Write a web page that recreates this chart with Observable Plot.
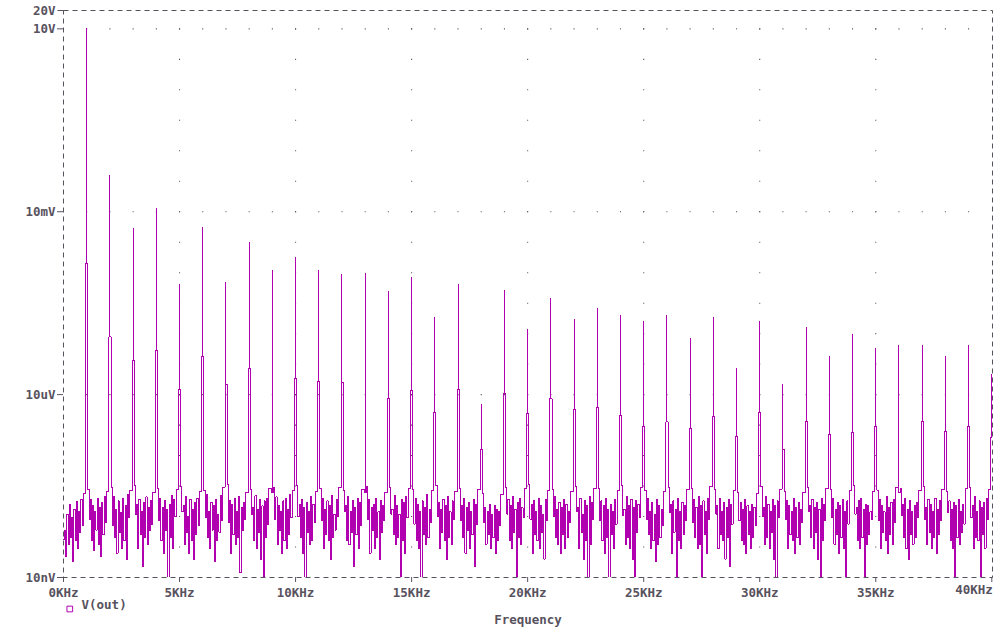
<!DOCTYPE html>
<html><head><meta charset="utf-8">
<script src="https://cdn.jsdelivr.net/npm/d3@7"></script>
<script src="https://cdn.jsdelivr.net/npm/@observablehq/plot@0.6"></script>
<style>html,body{margin:0;padding:0;background:#fff;overflow:hidden}</style>
</head><body><div id="chart"></div>
<script>
// Harmonic frequencies (KHz)
const harmonicKHz = [1,2,3,4,5,6,7,8,9,10,11,12,13,14,15,16,17,18,19,20,21,22,23,24,25,26,27,28,29,30,31,32,33,34,35,36,37,38,39,40];
// Peak amplitude at each harmonic (V)
const peakV = [10, 3.9e-2, 5.3e-3, 1.12e-2, 6.4e-4, 5.5e-3, 7.1e-4, 3.1e-3, 1.08e-3, 1.76e-3,
  1.08e-3, 9.6e-4, 9.6e-4, 4.9e-4, 8.3e-4, 1.83e-4, 6.6e-4, 6.9e-6, 5.1e-4, 1.16e-4,
  3.75e-4, 1.76e-4, 2.57e-4, 1.97e-4, 1.57e-4, 1.97e-4, 8.3e-5, 1.83e-4, 2.67e-5, 1.57e-4,
  1.46e-5, 1.25e-4, 4.2e-5, 9.6e-5, 5.7e-5, 6.6e-5, 6.4e-5, 4.2e-5, 6.4e-5, 2.13e-5];
// Leakage amplitude right beside each harmonic (V)
const shoulderV = [1.41e-3, 8.9e-5, 3.6e-5, 5.3e-5, 1.21e-5, 4.2e-5, 1.46e-5, 2.67e-5, 2.5e-7, 1.83e-5,
  1.63e-5, 1.57e-5, 2.5e-7, 8.6e-6, 1.16e-5, 5.1e-6, 1.21e-5, 1.25e-6, 1.04e-5, 4.9e-6,
  8.6e-6, 5.7e-6, 6.1e-6, 4.5e-6, 3.0e-6, 3.6e-6, 2.8e-6, 4.4e-6, 2.05e-6, 5.1e-6,
  1.25e-6, 3.6e-6, 2.2e-6, 2.4e-6, 3.0e-6, 2.5e-7, 3.6e-6, 2.5e-6, 3.0e-6, 2.0e-6];
// Noise floor (nV): bin at 0 KHz
const noiseStartNV = [42];
// Noise floor (nV): one row per KHz interval k, bins k+0.05 ... k+0.85 every 0.05 KHz
const noiseNV = [
 [60,22,110,35,160,45,95,18,130,40,175,30,120,55,190,70,240],
 [280,90,190,40,150,28,120,60,200,35,140,22,170,50,210,80,260],
 [300,70,210,45,130,25,180,55,115,30,200,40,150,20,230,95,270],
 [320,110,160,30,190,50,120,15,170,45,210,35,140,60,180,75,250],
 [290,85,200,40,140,25,180,60,130,9,160,45,220,30,190,100,280],
 [310,120,150,35,210,55,100,25,190,40,130,20,170,50,200,70,260],
 [270,95,230,45,120,30,170,60,150,18,190,40,110,55,220,85,300],
 [330,80,180,25,160,50,200,35,120,45,210,12,140,60,170,90,250],
 [280,110,140,40,220,30,130,55,190,20,150,9,180,45,200,75,290],
 [300,90,210,35,150,60,120,25,180,40,200,30,130,50,230,95,270],
 [320,100,160,45,190,25,140,8,170,55,120,35,210,40,160,80,260],
 [290,85,200,30,130,50,180,40,150,20,220,45,110,60,190,100,300],
 [270,120,150,40,210,35,120,55,180,15,140,50,200,30,170,70,280],
 [310,90,190,25,140,60,160,30,200,45,120,20,180,55,150,85,250],
 [300,110,130,50,220,35,150,45,110,9,190,40,170,25,210,95,290],
 [280,75,200,40,160,30,120,8,180,50,140,35,230,45,130,80,270],
 [320,100,170,30,130,55,190,40,150,20,210,45,120,35,180,90,260],
 [290,85,150,45,200,25,140,60,170,30,120,50,190,15,160,75,280],
 [240,80,140,35,120,50,160,30,110,45,150,25,130,40,120,70,230],
 [300,110,190,40,150,30,210,55,130,9,170,45,200,35,140,95,290],
 [330,90,160,25,180,50,120,40,200,30,150,55,110,20,190,85,270],
 [280,100,210,45,130,35,170,25,140,50,190,30,160,45,120,80,260],
 [310,120,140,30,200,55,110,20,180,40,150,8,210,35,170,90,290],
 [290,85,180,40,150,25,200,45,130,8,160,50,120,30,190,75,270],
 [320,105,130,35,210,45,150,30,190,20,140,9,180,55,160,95,300],
 [270,90,200,50,120,30,170,40,110,18,190,35,150,45,130,70,260],
 [300,115,160,25,180,55,130,9,200,40,120,30,170,50,150,85,280],
 [290,80,190,45,140,30,210,35,150,9,180,50,120,25,200,90,310],
 [280,110,150,30,200,50,120,40,170,20,140,45,190,15,160,75,270],
 [250,85,170,40,130,35,190,25,150,50,120,30,160,45,140,70,240],
 [310,100,140,35,210,45,160,30,120,55,190,20,150,9,180,95,280],
 [260,90,180,30,150,50,120,40,200,25,140,45,170,35,130,80,250],
 [300,120,150,45,190,30,140,55,170,20,130,9,200,40,160,85,290],
 [280,95,200,35,130,50,170,25,150,45,190,30,120,8,180,75,270],
 [320,110,140,40,180,30,200,45,130,9,160,35,150,50,120,90,260],
 [270,85,190,30,150,55,120,40,210,25,140,50,170,35,190,80,300],
 [290,105,160,45,200,30,130,20,180,50,120,35,150,45,170,95,270],
 [310,90,140,35,190,55,160,30,120,45,200,25,130,50,180,85,280],
 [260,115,180,40,130,30,170,8,150,45,190,35,120,55,160,75,290],
 [300,95,150,30,210,45,120,40,180,9,140,50,170,30,200,90,280]
];
const xTicks = [0,5,10,15,20,25,30,35,40];
const xTickLabels = ["0KHz","5KHz","10KHz","15KHz","20KHz","25KHz","30KHz","35KHz","40KHz"];
const yTicks = [1e-8, 1e-5, 1e-2, 10, 20];
const yTickLabels = ["10nV","10uV","10mV","10V","20V"];
const gridRowV = [10, 1e-2, 1e-5];          // dotted horizontal grid rows
const gridColKHz = [5,10,15,20,25,30,35];   // dotted vertical grid columns
const gridDotKHz = harmonicKHz.slice(0, 39);
const gridDotV = [3.16e-8,1e-7,3.16e-7,1e-6,3.16e-6,1e-5,3.16e-5,1e-4,3.16e-4,1e-3,3.16e-3,1e-2,3.16e-2,0.1,0.316,1,3.16,10];
const seriesName = "V(out)";
const axisTitle = "Frequency";

// Build the trace
const BIN = 0.05, LEAK = 0.04;
const trace = [{f: 0, v: noiseStartNV[0] * 1e-9}];
noiseNV.forEach((row, k) => {
  row.forEach((n, j) => trace.push({f: k + (j + 1) * BIN, v: n * 1e-9}));
  const h = harmonicKHz[k];
  trace.push({f: h - LEAK, v: shoulderV[k]});
  trace.push({f: h, v: peakV[k]});
  if (k < noiseNV.length - 1) trace.push({f: h, v: shoulderV[k]});
});

const hGrid = gridRowV.flatMap(v => gridDotKHz.map(f => ({f, v})));
const vGrid = gridColKHz.flatMap(f => gridDotV.map(v => ({f, v})));

const ink = "#58525e";
const magenta = "#b000b0";
const font = "DejaVu Sans Mono, monospace";
const tickGlyph = {draw(ctx) { ctx.moveTo(-6, 0); ctx.lineTo(0, 0); }};
const topTick = yTicks.slice(4);

const chart = Plot.plot({
  width: 1004, height: 631,
  marginTop: 10, marginBottom: 54, marginLeft: 63, marginRight: 12,
  x: {domain: [0, 40.03]},
  y: {type: "log", domain: [1e-8, 20]},
  style: {fontFamily: font, fontSize: "12.5px", fontWeight: "bold", color: ink, background: "#fff"},
  marks: [
    Plot.dot(hGrid, {x: "f", y: "v", r: 0.6, symbol: "square", fill: ink, stroke: null}),
    Plot.dot(vGrid, {x: "f", y: "v", r: 0.6, symbol: "square", fill: ink, stroke: null}),
    Plot.line(trace, {x: "f", y: "v", curve: "step-after", stroke: magenta, strokeWidth: 1, clip: true, shapeRendering: "crispEdges"}),
    Plot.frame({stroke: ink, strokeDasharray: "5,4"}),
    Plot.axisY({ticks: yTicks.slice(0, 4), tickFormat: d => yTickLabels[yTicks.indexOf(d)], tickSize: 6, tickPadding: 2, label: null, fontWeight: "bold"}),
    Plot.dot(topTick, {y: d => d, frameAnchor: "left", symbol: tickGlyph, stroke: ink, fill: "none", strokeWidth: 1}),
    Plot.text(topTick, {y: d => d, frameAnchor: "left", dx: -8, textAnchor: "end", text: d => yTickLabels[yTicks.indexOf(d)], fill: ink, fontWeight: "bold"}),
    Plot.axisX({ticks: xTicks, tickFormat: d => d === 40 ? "" : xTickLabels[xTicks.indexOf(d)], tickSize: 5, tickPadding: 6, label: null, fontWeight: "bold"}),
    Plot.text([xTicks[8]], {x: d => d, frameAnchor: "bottom", dy: 16, dx: 1, textAnchor: "end", text: () => xTickLabels[8], fill: ink, fontWeight: "bold"}),
    Plot.text([axisTitle], {frameAnchor: "bottom", dy: 46, text: d => d, fill: ink, fontWeight: "bold"}),
    Plot.dot([seriesName], {frameAnchor: "bottom-left", dx: 6.3, dy: 31.5, symbol: "square", r: 3.2, stroke: magenta, fill: "none", strokeWidth: 1}),
    Plot.text([seriesName], {frameAnchor: "bottom-left", dx: 18, dy: 31.5, textAnchor: "start", text: d => d, fill: ink, fontWeight: "bold"})
  ]
});
document.getElementById("chart").appendChild(chart);
</script>
</body></html>
